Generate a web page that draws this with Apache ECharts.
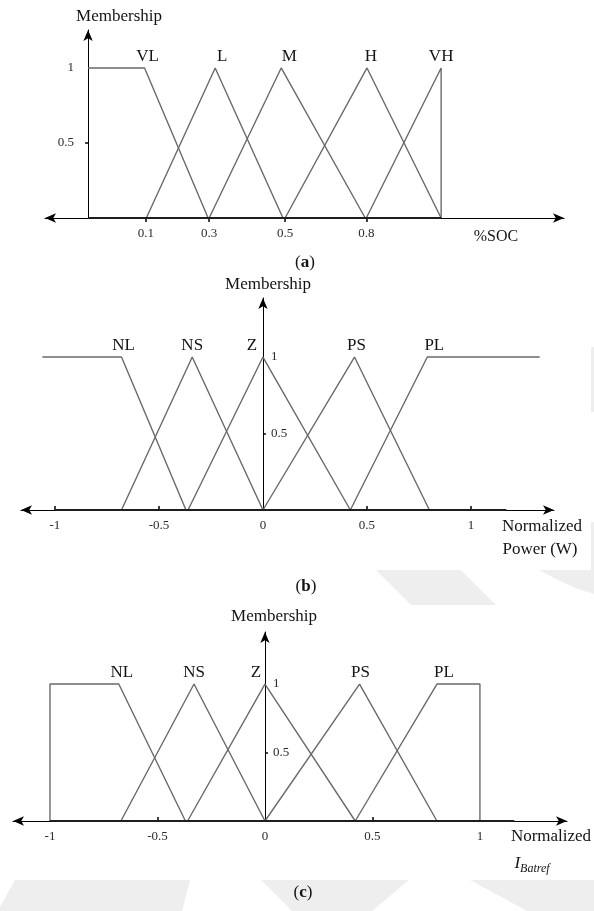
<!DOCTYPE html>
<html>
<head>
<meta charset="utf-8">
<script src="https://cdn.jsdelivr.net/npm/echarts@6/dist/echarts.min.js"></script>
<style>
  html, body { margin: 0; padding: 0; background: #ffffff; }
  #chart { width: 594px; height: 911px; }
</style>
</head>
<body>
<div id="chart"></div>
<script>
const FONT = "'Liberation Serif', 'Times New Roman', serif";
const LINE = '#6a6a6a';
const INK = '#141414';

// ---- (a) state of charge: schematic axis, position along the drawn range (0 = origin, 1 = end) ----
const socTickPos = [0.164, 0.343, 0.558, 0.788];
const socTickText = ['0.1', '0.3', '0.5', '0.8'];
const socNames = ['VL', 'L', 'M', 'H', 'VH'];
const socVL = [[0, 1], [0.16, 1], [0.34, 0]];
const socL = [[0.165, 0], [0.36, 1], [0.552, 0]];
const socM = [[0.343, 0], [0.547, 1], [0.785, 0]];
const socH = [[0.558, 0], [0.79, 1], [1, 0]];
const socVH = [[0.788, 0], [1, 1], [1, 0]];
const socLabelAt = [1, 1, 1, 1, 1];
const socBase = [0, 1];

// ---- (b) normalized power ----
const powTicks = [-1, -0.5, 0, 0.5, 1];
const powNames = ['NL', 'NS', 'Z', 'PS', 'PL'];
const powNL = [[-1.06, 1], [-0.68, 1], [-0.37, 0]];
const powNS = [[-0.68, 0], [-0.34, 1], [0, 0]];
const powZ = [[-0.36, 0], [0, 1], [0.42, 0]];
const powPS = [[0, 0], [0.44, 1], [0.8, 0]];
const powPL = [[0.42, 0], [0.79, 1], [1.33, 1]];
const powLabelAt = [1, 1, 1, 1, 1];
const powBase = [-1, 1.17];

// ---- (c) normalized battery reference current ----
const batTicks = [-1, -0.5, 0, 0.5, 1];
const batNames = ['NL', 'NS', 'Z', 'PS', 'PL'];
const batNL = [[-1, 0], [-1, 1], [-0.68, 1], [-0.37, 0]];
const batNS = [[-0.67, 0], [-0.33, 1], [0, 0]];
const batZ = [[-0.36, 0], [0, 1], [0.42, 0]];
const batPS = [[0, 0], [0.44, 1], [0.8, 0]];
const batPL = [[0.42, 0], [0.8, 1], [1, 1], [1, 0]];
const batLabelAt = [2, 1, 1, 1, 1];
const batBase = [-1, 1.16];

// membership ticks on the vertical axes
const memberTicks = [0.5, 1];

// horizontal nudges for the set names above their peaks
const socNameShift = [3, 7, 8, 4, 0];
const powNameShift = [2, 0, -11, 2, 7];
const batNameShift = [3, 0, -9, 1, 7];

// grid geometry: [left, width, top, height]; the vertical axis sits where x = 0
const gridBoxes = [[45, 519, 30, 188], [21, 533, 298, 212], [13, 554, 632, 189]];
const xRanges = [[-0.122, 1.348], [-1.163, 1.399], [-1.172, 1.405]];
const yMax = [1.253, 1.386, 1.38];

function zeroOffset(i) {
  const [left, width] = gridBoxes[i];
  const [min, max] = xRanges[i];
  return -(width * (0 - min) / (max - min));
}

function setSeries(sets, names, labelAt, shifts, axisIndex) {
  return sets.map((pts, s) => ({
    type: 'line',
    name: names[s],
    xAxisIndex: axisIndex,
    yAxisIndex: axisIndex,
    showSymbol: true,
    symbol: 'circle',
    symbolSize: 0,
    silent: true,
    z: 4,
    lineStyle: { color: LINE, width: 1.4 },
    itemStyle: { color: LINE },
    data: pts.map((p, i) => i === labelAt[s] ? {
      value: p,
      label: {
        show: true, position: 'top', distance: 3,
        offset: [shifts[s], 0],
        formatter: names[s],
        fontFamily: FONT, fontSize: 17, color: INK
      }
    } : { value: p })
  }));
}

function baseSeries(range, axisIndex) {
  return {
    type: 'line', xAxisIndex: axisIndex, yAxisIndex: axisIndex,
    symbol: 'none', silent: true, z: 5,
    lineStyle: { color: '#1e1e1e', width: 2 },
    data: [[range[0], 0], [range[1], 0]]
  };
}

function xAxisDef(idx, tickVals, labelVals, fmt) {
  return {
    type: 'value', gridIndex: idx, min: xRanges[idx][0], max: xRanges[idx][1],
    splitLine: { show: false },
    axisLine: {
      show: true, onZero: true, symbol: ['arrow', 'arrow'], symbolSize: [7, 11],
      lineStyle: { color: '#000', width: 1 }
    },
    axisTick: {
      show: true, customValues: tickVals, length: 4, inside: idx !== 0,
      lineStyle: { color: '#000', width: 1.5 }
    },
    axisLabel: {
      show: true, customValues: labelVals, margin: 9,
      fontFamily: FONT, fontSize: 13, color: '#2a2a2a',
      formatter: fmt
    }
  };
}

function yAxisDef(idx, inside) {
  return {
    type: 'value', gridIndex: idx, min: 0, max: yMax[idx],
    offset: zeroOffset(idx),
    splitLine: { show: false },
    axisLine: {
      show: true, onZero: false, symbol: ['none', 'arrow'], symbolSize: [7, 11],
      lineStyle: { color: '#000', width: 1 }
    },
    axisTick: {
      show: true, customValues: [0.5], length: 3, inside: inside,
      lineStyle: { color: '#000', width: 1.5 }
    },
    axisLabel: {
      show: true, customValues: memberTicks, inside: inside, margin: inside ? 8 : 14,
      fontFamily: FONT, fontSize: 13, color: '#2a2a2a',
      formatter: v => String(v)
    }
  };
}

function socLabel(v) {
  let best = 0;
  socTickPos.forEach((p, i) => { if (Math.abs(p - v) < Math.abs(socTickPos[best] - v)) best = i; });
  return socTickText[best];
}

function text(x, y, str, size, extra) {
  return {
    type: 'text', x: x, y: y, z: 20,
    style: Object.assign({
      text: str, fontFamily: FONT, fontSize: size, fill: INK,
      align: 'center', verticalAlign: 'middle'
    }, extra || {})
  };
}

function caption(x, y, letter) {
  return {
    type: 'text', x: x, y: y, z: 20,
    style: {
      text: '{p|(}{b|' + letter + '}{p|)}',
      align: 'center', verticalAlign: 'middle',
      rich: {
        p: { fontFamily: FONT, fontSize: 17, fill: INK },
        b: { fontFamily: FONT, fontSize: 17, fontWeight: 'bold', fill: INK }
      }
    }
  };
}

function shape(points) {
  return { type: 'polygon', z: 0, shape: { points: points }, style: { fill: '#eeeeee' }, silent: true };
}

const chart = echarts.init(document.getElementById('chart'), null, { renderer: 'canvas' });

chart.setOption({
  animation: false,
  backgroundColor: '#ffffff',
  grid: gridBoxes.map(b => ({ left: b[0], width: b[1], top: b[2], height: b[3] })),
  xAxis: [
    xAxisDef(0, socTickPos, socTickPos, socLabel),
    xAxisDef(1, [-1, -0.5, 0.5, 1], powTicks, v => String(v)),
    xAxisDef(2, [-0.5, 0.5], batTicks, v => String(v))
  ],
  yAxis: [
    yAxisDef(0, false),
    yAxisDef(1, true),
    yAxisDef(2, true)
  ],
  graphic: [
    // faint background shapes
    shape([[376, 570], [461, 570], [496, 605], [411, 605]]),
    shape([[539, 570], [594, 570], [594, 594], [578, 589], [560, 581]]),
    { type: 'rect', z: 0, shape: { x: 591, y: 347, width: 3, height: 65 }, style: { fill: '#eeeeee' } },
    { type: 'rect', z: 0, shape: { x: 591, y: 522, width: 3, height: 48 }, style: { fill: '#eeeeee' } },
    shape([[15, 880], [190, 880], [182, 911], [0, 911], [0, 907]]),
    shape([[261, 880], [409, 880], [372, 911], [292, 911]]),
    shape([[470, 880], [594, 880], [594, 911], [527, 911]]),

    // axis titles and captions
    text(119, 17, 'Membership', 17),
    text(496, 237, '%SOC', 16),
    caption(305, 263, 'a'),

    text(268, 285, 'Membership', 17),
    text(542, 527, 'Normalized', 17),
    text(540, 550, 'Power (W)', 17),
    caption(306, 587, 'b'),

    text(274, 617, 'Membership', 17),
    text(551, 837, 'Normalized', 17),
    {
      type: 'text', x: 532, y: 864, z: 20,
      style: {
        text: '{i|I}{s|Batref}', align: 'center', verticalAlign: 'middle',
        rich: {
          i: { fontFamily: FONT, fontSize: 17, fontStyle: 'italic', fill: INK },
          s: { fontFamily: FONT, fontSize: 12, fontStyle: 'italic', fill: INK, padding: [9, 0, 0, 0] }
        }
      }
    },
    caption(303, 893, 'c')
  ],
  series: [].concat(
    setSeries([socVL, socL, socM, socH, socVH], socNames, socLabelAt, socNameShift, 0),
    [baseSeries(socBase, 0)],
    setSeries([powNL, powNS, powZ, powPS, powPL], powNames, powLabelAt, powNameShift, 1),
    [baseSeries(powBase, 1)],
    setSeries([batNL, batNS, batZ, batPS, batPL], batNames, batLabelAt, batNameShift, 2),
    [baseSeries(batBase, 2)]
  )
});
</script>
</body>
</html>
